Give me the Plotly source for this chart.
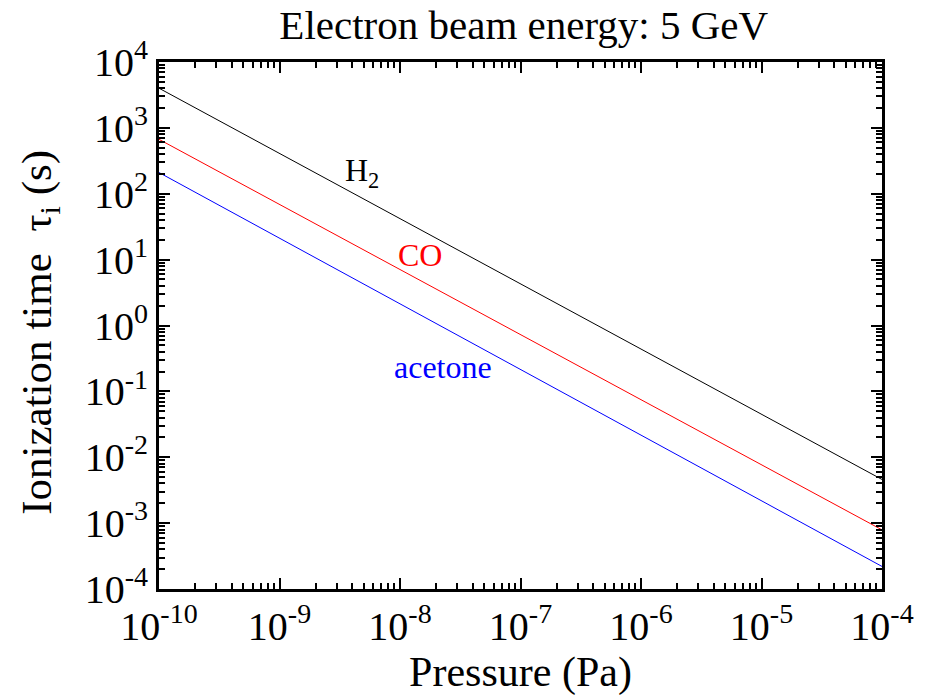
import math
import plotly.graph_objects as go

# Ionization time vs residual gas pressure (5 GeV electron beam)
pressure = [1e-10, 1e-4]
tau_h2 = [4.0e3, 4.6e-3]
tau_co = [6.7e2, 7.9e-4]
tau_acetone = [2.1e2, 2.2e-4]

series = [
    ("H<sub>2</sub>", tau_h2, "black"),
    ("CO", tau_co, "red"),
    ("acetone", tau_acetone, "blue"),
]

x_tick_exps = [-10, -9, -8, -7, -6, -5, -4]
y_tick_exps = [-4, -3, -2, -1, 0, 1, 2, 3, 4]

# in-plot labels: (text, x, y, color)
labels = [
    ("H<sub>2</sub>", 4.8e-9, 2.1e2, "black"),
    ("CO", 1.47e-8, 11.8, "red"),
    ("acetone", 2.28e-8, 0.234, "blue"),
]

FONT = "Times New Roman"

fig = go.Figure()
for name, ys, col in series:
    fig.add_trace(go.Scatter(x=pressure, y=ys, mode="lines", name=name,
                             line=dict(color=col, width=1), showlegend=False))

# annotation positions on log axes are given in log10 units
for text, x, y, col in labels:
    fig.add_annotation(x=math.log10(x), y=math.log10(y), xref="x", yref="y",
                       text=text, showarrow=False,
                       font=dict(family=FONT, size=32, color=col))

# rotated y-axis title
fig.add_annotation(x=-0.164, y=0.487, xref="paper", yref="paper",
                   text="Ionization time  τ<sub>i</sub> (s)", textangle=-90,
                   showarrow=False, xanchor="center", yanchor="middle",
                   font=dict(family=FONT, size=43, color="black"))

def tt(e):
    return f"10<sup>{e}</sup>"

axis_common = dict(
    type="log", showgrid=False, zeroline=False,
    showline=True, linewidth=3, linecolor="black", mirror="ticks",
    ticks="inside", ticklen=11, tickwidth=2, tickcolor="black",
    minor=dict(ticks="inside", ticklen=6, tickwidth=2, tickcolor="black", dtick="D1"),
    tickfont=dict(family=FONT, size=40, color="black"),
)

fig.update_xaxes(**axis_common, range=[-10, -4],
                 tickvals=[10 ** e for e in x_tick_exps],
                 ticktext=[tt(e) for e in x_tick_exps],
                 title=dict(text="Pressure (Pa)", font=dict(family=FONT, size=42, color="black"),
                            standoff=8))
fig.update_yaxes(**axis_common, range=[-4, 4],
                 tickvals=[10 ** e for e in y_tick_exps],
                 ticktext=[tt(e) for e in y_tick_exps])

fig.update_layout(
    width=927, height=700,
    margin=dict(l=159, r=45, t=62, b=111),
    paper_bgcolor="white", plot_bgcolor="white",
    font=dict(family=FONT, color="black"),
    title=dict(text="Electron beam energy: 5 GeV", x=0.565, xanchor="center",
               y=0.965, yanchor="middle",
               font=dict(family=FONT, size=41, color="black")),
)

fig.write_html("out.html")
